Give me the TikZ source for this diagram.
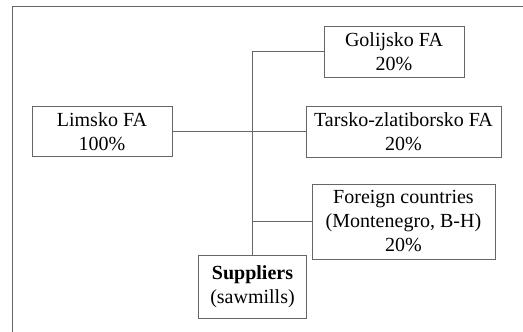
\documentclass[tikz,border=0pt]{standalone}
\usepackage{fontspec}
\setmainfont{Liberation Serif}
\tikzset{
  fa/.style={draw=black!60, line width=0.9pt, inner sep=0pt, align=center,
    font=\fontsize{20}{24}\selectfont},
  link/.style={draw=black!60, line width=0.9pt}
}
\begin{document}
\begin{tikzpicture}[x=1pt,y=-1pt]
  \useasboundingbox (0,0) rectangle (523,332);
  % outer frame (cut at right and bottom)
  \draw[black!60, line width=1pt] (12.5,332) -- (12.5,6.5) -- (523,6.5);
  % source regions
  \node[fa, minimum width=140, minimum height=50] (limsko) at (102,131.5) {Limsko FA\\100\%};
  \node[fa, minimum width=140, minimum height=51] (golijsko) at (394,51.5) {Golijsko FA\\20\%};
  \node[fa, minimum width=195, minimum height=51] (tarsko) at (403.5,131.5) {Tarsko-zlatiborsko FA\\20\%};
  \node[fa, minimum width=183, minimum height=75] (foreign) at (403.5,221.5) {Foreign countries\\(Montenegro, B-H)\\20\%};
  \node[fa, minimum width=108, minimum height=63] (suppliers) at (252.5,286.5) {\textbf{Suppliers}\\(sawmills)};
  % connectors
  \draw[link] (golijsko.west) -| (suppliers.north);
  \draw[link] (limsko.east) -- (tarsko.west);
  \draw[link] (foreign.west) -- (foreign.west -| suppliers.north);
\end{tikzpicture}
\end{document}
